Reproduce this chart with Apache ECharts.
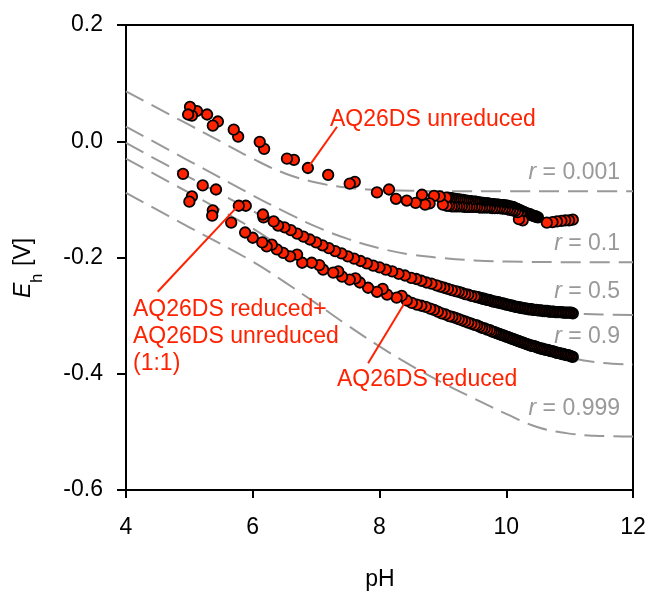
<!DOCTYPE html>
<html><head><meta charset="utf-8">
<script src="https://cdn.jsdelivr.net/npm/echarts@6/dist/echarts.min.js"></script>
<style>html,body{margin:0;padding:0;background:#fff}#c{width:652px;height:596px}</style>
</head><body><div id="c"></div>
<script>
// ---- data (pH, Eh in V) ----
const unreduced = [
[4.98,0.046],[5.01,0.059],[5.04,0.044],[5.12,0.052],[5.28,0.046],[5.37,0.027],[5.45,0.034],[5.70,0.020],[5.77,0.008],[6.11,-0.001],[6.18,-0.013],[6.54,-0.030],[6.65,-0.032],[6.87,-0.046],[7.19,-0.058],[7.53,-0.073],[7.61,-0.070],[7.96,-0.088],[8.15,-0.083],[8.26,-0.099],[8.43,-0.102],[8.57,-0.106],[8.67,-0.092],[8.72,-0.109],[8.79,-0.107],[8.86,-0.094],[8.95,-0.095],[9.00,-0.109],
[9.05,-0.097],[9.08,-0.097],[9.11,-0.098],[9.14,-0.098],[9.17,-0.099],[9.20,-0.099],[9.23,-0.100],[9.26,-0.100],[9.29,-0.101],[9.32,-0.101],[9.35,-0.102],[9.38,-0.102],[9.41,-0.103],[9.44,-0.103],[9.47,-0.104],
[9.50,-0.104],[9.52,-0.104],[9.54,-0.105],[9.56,-0.105],[9.58,-0.105],[9.60,-0.106],[9.62,-0.106],[9.64,-0.106],[9.66,-0.107],[9.68,-0.107],[9.70,-0.107],[9.72,-0.107],[9.74,-0.108],[9.76,-0.108],[9.78,-0.108],[9.80,-0.108],[9.82,-0.109],[9.84,-0.109],[9.86,-0.109],[9.88,-0.109],[9.90,-0.110],[9.92,-0.110],[9.94,-0.110],[9.96,-0.110],[9.98,-0.111],[10.00,-0.111],[10.02,-0.111],[10.04,-0.112],[10.06,-0.112],[10.08,-0.113],[10.10,-0.113],[10.12,-0.114],[10.14,-0.115],[10.16,-0.116],[10.18,-0.117],[10.20,-0.118],[10.22,-0.119],[10.24,-0.120],[10.26,-0.121],[10.28,-0.122],[10.30,-0.123],[10.32,-0.124],[10.34,-0.125],[10.36,-0.125],[10.38,-0.126],[10.40,-0.127],[10.42,-0.128],[10.44,-0.129],[10.46,-0.129],[10.48,-0.130],[10.50,-0.131],
[9.06,-0.111],[9.10,-0.111],[9.14,-0.112],[9.18,-0.112],[9.22,-0.112],[9.26,-0.112],[9.30,-0.112],[9.34,-0.113],[9.38,-0.113],[9.42,-0.113],[9.46,-0.113],[9.50,-0.113],[9.54,-0.113],[9.58,-0.114],[9.62,-0.114],[9.66,-0.114],[9.70,-0.114],[9.74,-0.114],[9.78,-0.115],[9.82,-0.115],[9.86,-0.115],[9.90,-0.115],[9.94,-0.116],[9.98,-0.116],[10.02,-0.117],[10.06,-0.118],[10.10,-0.119],[10.14,-0.120],[10.18,-0.122],[10.22,-0.124],
[10.20,-0.134],[10.26,-0.136],[10.64,-0.140],[10.73,-0.139],[10.80,-0.138],[10.87,-0.137],[10.93,-0.136],[10.99,-0.136],[11.05,-0.135]
];
const mixed = [
[4.90,-0.056],[5.21,-0.076],[5.42,-0.083],[5.78,-0.111],[5.89,-0.111],[6.16,-0.126],[6.17,-0.131],[6.33,-0.138],[6.40,-0.145],
[6.50,-0.148],[6.60,-0.153],[6.70,-0.159],[6.80,-0.164],[6.90,-0.169],[7.00,-0.174],[7.10,-0.179],[7.20,-0.184],[7.30,-0.189],[7.40,-0.193],[7.50,-0.198],[7.60,-0.202],[7.70,-0.206],[7.80,-0.210],[7.90,-0.214],[8.00,-0.217],[8.10,-0.221],[8.20,-0.224],[8.30,-0.228],[8.40,-0.231],[8.50,-0.235],[8.58,-0.237],[8.66,-0.240],[8.74,-0.243],[8.82,-0.245],[8.90,-0.248],[8.96,-0.250],[9.02,-0.252],
[9.08,-0.254],[9.14,-0.256],[9.20,-0.258],[9.25,-0.259],[9.30,-0.261],[9.35,-0.263],[9.40,-0.264],[9.45,-0.266],[9.50,-0.267],
[9.525,-0.268],[9.55,-0.268],[9.575,-0.269],[9.60,-0.270],[9.625,-0.271],[9.65,-0.271],[9.675,-0.272],[9.70,-0.273],[9.725,-0.273],[9.75,-0.274],[9.775,-0.275],[9.80,-0.276],[9.825,-0.276],[9.85,-0.277],[9.875,-0.277],[9.90,-0.278],[9.925,-0.279],[9.95,-0.279],[9.975,-0.280],
[10.00,-0.281],[10.025,-0.281],[10.05,-0.282],[10.075,-0.283],[10.10,-0.283],[10.125,-0.284],[10.15,-0.285],[10.175,-0.285],[10.20,-0.286],[10.225,-0.286],[10.25,-0.287],[10.275,-0.287],[10.30,-0.288],[10.325,-0.288],[10.35,-0.289],[10.375,-0.289],[10.40,-0.289],[10.425,-0.290],[10.45,-0.290],[10.475,-0.290],
[10.50,-0.291],[10.525,-0.291],[10.55,-0.291],[10.575,-0.292],[10.60,-0.292],[10.625,-0.292],[10.65,-0.292],[10.675,-0.293],[10.70,-0.293],[10.725,-0.293],[10.75,-0.293],[10.775,-0.294],[10.80,-0.294],[10.825,-0.294],[10.85,-0.294],[10.875,-0.294],[10.90,-0.295],[10.925,-0.295],[10.95,-0.295],[10.975,-0.295],[11.00,-0.295],[11.025,-0.295],[11.05,-0.296]
];
const reduced = [
[5.04,-0.095],[5.00,-0.104],[5.37,-0.119],[5.36,-0.128],[5.66,-0.140],[5.88,-0.157],[6.00,-0.166],[6.15,-0.174],[6.22,-0.181],[6.30,-0.178],[6.38,-0.186],
[6.48,-0.192],[6.59,-0.198],[6.70,-0.195],[6.78,-0.209],[6.93,-0.209],[7.05,-0.213],[7.11,-0.221],[7.27,-0.226],[7.35,-0.224],[7.41,-0.233],[7.53,-0.238],[7.62,-0.236],[7.69,-0.243],[7.82,-0.252],[7.96,-0.259],[8.05,-0.254],[8.12,-0.264],[8.27,-0.269],[8.35,-0.266],[8.43,-0.274],[8.51,-0.278],[8.59,-0.281],[8.66,-0.283],[8.73,-0.285],[8.80,-0.288],[8.86,-0.290],[8.92,-0.293],[8.98,-0.296],[9.04,-0.298],[9.10,-0.301],[9.15,-0.302],[9.20,-0.304],[9.25,-0.306],[9.30,-0.308],[9.35,-0.310],[9.40,-0.312],[9.45,-0.314],[9.50,-0.316],
[9.54,-0.317],[9.58,-0.319],[9.62,-0.321],[9.66,-0.322],[9.70,-0.324],[9.74,-0.325],[9.77,-0.327],
[9.80,-0.328],[9.825,-0.329],[9.85,-0.330],[9.875,-0.331],[9.90,-0.332],[9.925,-0.333],[9.95,-0.334],[9.975,-0.335],[10.00,-0.336],[10.025,-0.337],[10.05,-0.338],[10.075,-0.339],[10.10,-0.340],[10.125,-0.341],[10.15,-0.342],[10.175,-0.343],[10.20,-0.344],[10.225,-0.345],[10.25,-0.346],[10.275,-0.347],[10.30,-0.348],[10.325,-0.349],[10.35,-0.350],[10.375,-0.351],[10.40,-0.352],[10.425,-0.352],[10.45,-0.353],[10.475,-0.354],
[10.50,-0.355],[10.525,-0.356],[10.55,-0.357],[10.575,-0.357],[10.60,-0.358],[10.625,-0.359],[10.65,-0.359],[10.675,-0.360],[10.70,-0.361],[10.725,-0.361],[10.75,-0.362],[10.775,-0.363],[10.80,-0.364],[10.825,-0.364],[10.85,-0.365],[10.875,-0.366],[10.90,-0.366],[10.925,-0.367],[10.95,-0.368],[10.975,-0.368],[11.00,-0.369],[11.025,-0.370],[11.05,-0.371]
];
// theoretical curves for reduced fraction r
const curveR0001 = [[4,0.086],[5,0.028],[5.5,-0.001],[6,-0.030],[6.5,-0.055],[7,-0.071],[7.5,-0.080],[8,-0.084],[8.5,-0.085],[9,-0.086],[10,-0.086],[11,-0.086],[12,-0.086]];
const curveR01 = [[4,0.025],[5,-0.034],[6,-0.093],[6.5,-0.121],[7,-0.147],[7.5,-0.168],[8,-0.184],[8.5,-0.195],[9,-0.201],[9.5,-0.205],[10,-0.207],[11,-0.208],[12,-0.208]];
const curveR05 = [[4,-0.003],[5,-0.062],[6,-0.120],[6.5,-0.148],[7,-0.174],[7.5,-0.197],[8,-0.216],[8.5,-0.234],[9,-0.251],[9.5,-0.267],[10,-0.281],[10.5,-0.291],[11,-0.296],[11.5,-0.298],[12,-0.299]];
const curveR09 = [[4,-0.030],[5,-0.089],[6,-0.150],[6.5,-0.185],[7,-0.211],[7.5,-0.233],[8,-0.254],[8.5,-0.273],[9,-0.293],[9.5,-0.313],[10,-0.333],[10.5,-0.353],[11,-0.372],[11.5,-0.381],[12,-0.384]];
const curveR0999 = [[4,-0.089],[5,-0.148],[6,-0.207],[6.5,-0.242],[7,-0.279],[7.5,-0.317],[8,-0.353],[8.5,-0.386],[9,-0.416],[9.5,-0.443],[10,-0.469],[10.5,-0.492],[11,-0.503],[11.5,-0.507],[12,-0.508]];
const curveLabels = ['0.001','0.1','0.5','0.9','0.999'];
const seriesLabels = ['AQ26DS unreduced','AQ26DS reduced+','AQ26DS unreduced','(1:1)','AQ26DS reduced'];
const xRange = [4, 12, 2];
const yRange = [-0.6, 0.2, 0.2];

const RED = '#ff2200', GRAY = '#999999';
const FONT = '"Liberation Sans", Arial, sans-serif';
const chart = echarts.init(document.getElementById('c'), null, {renderer:'canvas'});

function dashed(data){
  return {type:'line', data, smooth:0.4, symbol:'none', silent:true, z:1,
    lineStyle:{color:GRAY, width:2, type:[20,9]}};
}
function pts(data){
  return {type:'scatter', data: data.slice().sort((a,b)=>b[0]-a[0]), symbol:'circle', symbolSize:10.5, z:3,
    itemStyle:{color:RED, borderColor:'#000', borderWidth:1.8, opacity:1}};
}
const axisCommon = {
  type:'value', splitLine:{show:false}, minorTick:{show:false},
  axisLine:{show:true, onZero:false, lineStyle:{color:'#000', width:2}},
};
chart.setOption({
  animation:false,
  grid:{left:126, right:19, top:25, bottom:106, containLabel:false},
  xAxis:[
    Object.assign({}, axisCommon, {min:xRange[0], max:xRange[1], interval:xRange[2], position:'bottom',
      axisTick:{show:true, inside:false, length:8, lineStyle:{color:'#000', width:2}},
      axisLabel:{color:'#000', fontSize:23, fontFamily:FONT, margin:26, showMinLabel:true, showMaxLabel:true}}),
    Object.assign({}, axisCommon, {min:xRange[0], max:xRange[1], position:'top',
      axisTick:{show:false}, axisLabel:{show:false}})
  ],
  yAxis:[
    Object.assign({}, axisCommon, {min:yRange[0], max:yRange[1], interval:yRange[2], position:'left',
      axisTick:{show:true, inside:false, length:9, lineStyle:{color:'#000', width:2}},
      axisLabel:{color:'#000', fontSize:23, fontFamily:FONT, margin:23, showMinLabel:true, showMaxLabel:true,
        formatter:v=>v.toFixed(1)}}),
    Object.assign({}, axisCommon, {min:yRange[0], max:yRange[1], position:'right',
      axisTick:{show:false}, axisLabel:{show:false}})
  ],
  series:[
    dashed(curveR0001), dashed(curveR01), dashed(curveR05), dashed(curveR09), dashed(curveR0999),
    pts(unreduced), pts(mixed), pts(reduced)
  ]
});

function P(x,y){ return chart.convertToPixel({gridIndex:0}, [x,y]); }
function leader(a,b){
  const p=P(a[0],a[1]), q=P(b[0],b[1]);
  return {type:'line', shape:{x1:p[0],y1:p[1],x2:q[0],y2:q[1]}, style:{stroke:RED, lineWidth:2}, z:10};
}
function txt(x,y,text,color,align,size,italic){
  return {type:'text', x, y, z:10, style:{text, fill:color, font:(italic?'italic ':'')+size+'px '+FONT, textAlign:align||'left', textVerticalAlign:'middle'}};
}
function rLabel(yMid, val){
  return {type:'text', x:620, y:yMid, z:10, style:{
    text:'{i|r} = '+val, textAlign:'right', textVerticalAlign:'middle',
    fill:GRAY, font:'23px '+FONT,
    rich:{i:{fontStyle:'italic', fontSize:23, fontFamily:FONT, fill:GRAY}}
  }};
}
const graphics = [
  leader([7.33,0.025],[6.88,-0.044]),
  leader([4.50,-0.259],[5.78,-0.110]),
  leader([7.82,-0.382],[8.42,-0.274]),
  txt(330,120,seriesLabels[0],RED,'left',23),
  txt(133,310,seriesLabels[1],RED,'left',23),
  txt(133,337,seriesLabels[2],RED,'left',23),
  txt(133,364,seriesLabels[3],RED,'left',23),
  txt(337,380,seriesLabels[4],RED,'left',23),
  rLabel(173,curveLabels[0]), rLabel(244,curveLabels[1]), rLabel(292,curveLabels[2]),
  rLabel(337,curveLabels[3]), rLabel(409,curveLabels[4]),
  // y axis title  E_h [V]
  {type:'text', x:24, y:298, rotation:Math.PI/2, z:10, style:{text:'E', font:'italic 23px '+FONT, fill:'#000', textAlign:'left', textVerticalAlign:'middle'}},
  {type:'text', x:37, y:283, rotation:Math.PI/2, z:10, style:{text:'h', font:'17px '+FONT, fill:'#000', textAlign:'left', textVerticalAlign:'middle'}},
  {type:'text', x:24, y:266, rotation:Math.PI/2, z:10, style:{text:'[V]', font:'23px '+FONT, fill:'#000', textAlign:'left', textVerticalAlign:'middle'}},
  // x axis title
  {type:'text', x:380, y:580, z:10, style:{text:'pH', font:'23px '+FONT, fill:'#000', textAlign:'center', textVerticalAlign:'middle'}}
];
chart.setOption({graphic:{elements:graphics}});
</script>
</body></html>
